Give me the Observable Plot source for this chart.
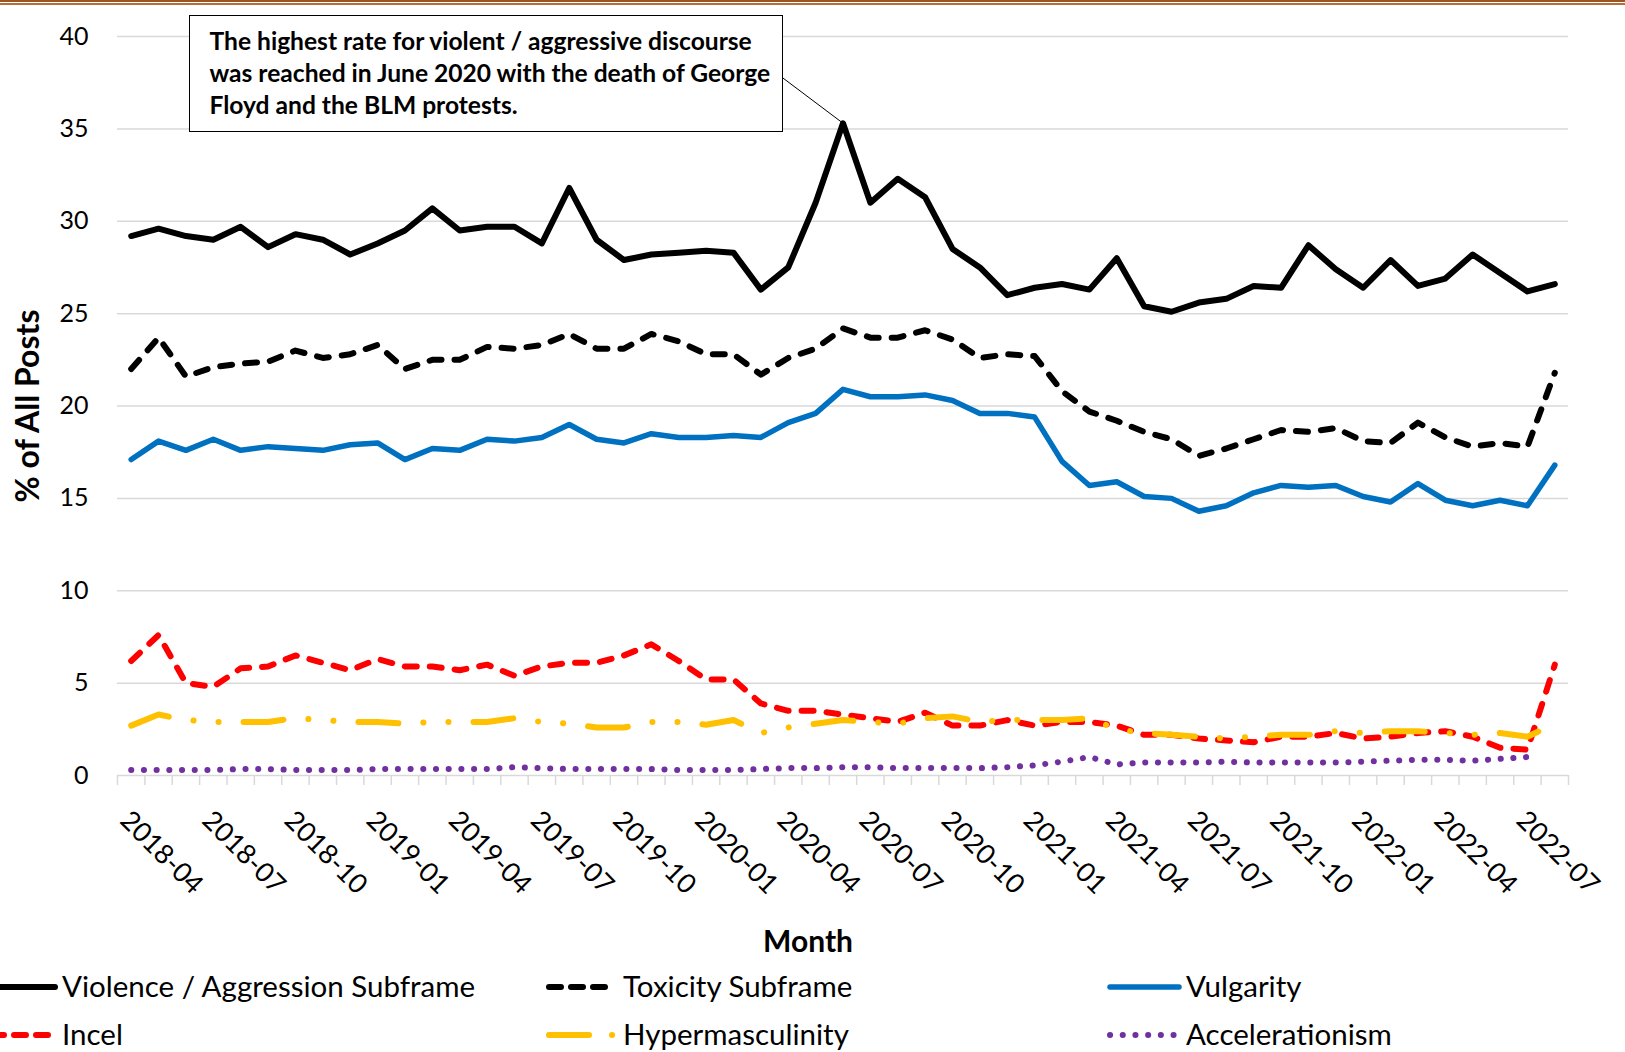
<!DOCTYPE html>
<html>
<head>
<meta charset="utf-8">
<script src="https://cdn.jsdelivr.net/npm/d3@7"></script>
<script src="https://cdn.jsdelivr.net/npm/@observablehq/plot@0.6"></script>
<style>
html,body{margin:0;padding:0;background:#fff;}
#page{position:relative;width:1625px;height:1052px;overflow:hidden;font-family:Lato,"Open Sans",sans-serif;color:#000;}
#chart{position:absolute;left:0;top:0;}
.tl1{position:absolute;left:0;top:0;width:1625px;height:1.5px;background:#9a5524;}
.tl2{position:absolute;left:0;top:3px;width:1625px;height:1.5px;background:#b86b33;}
#note{position:absolute;left:188.5px;top:14.5px;width:594px;height:117px;box-sizing:border-box;border:1.5px solid #000;background:#fff;padding:9px 0 0 20px;font-weight:700;font-size:24.6px;line-height:32.2px;white-space:nowrap;}
.leg{position:absolute;height:36px;line-height:36px;font-size:29.5px;white-space:nowrap;}
.sw{position:absolute;overflow:visible;}
</style>
</head>
<body>
<div id="page">
  <div id="chart"></div>
  <div class="tl1"></div><div class="tl2"></div>
  <div id="note"></div>
  <div id="legend"></div>
</div>
<script>
// ---------- data ----------
const months = ["2018-04","2018-05","2018-06","2018-07","2018-08","2018-09","2018-10","2018-11","2018-12",
"2019-01","2019-02","2019-03","2019-04","2019-05","2019-06","2019-07","2019-08","2019-09","2019-10","2019-11","2019-12",
"2020-01","2020-02","2020-03","2020-04","2020-05","2020-06","2020-07","2020-08","2020-09","2020-10","2020-11","2020-12",
"2021-01","2021-02","2021-03","2021-04","2021-05","2021-06","2021-07","2021-08","2021-09","2021-10","2021-11","2021-12",
"2022-01","2022-02","2022-03","2022-04","2022-05","2022-06","2022-07","2022-08"];

const tickLabels = ["2018-04","2018-07","2018-10","2019-01","2019-04","2019-07","2019-10","2020-01","2020-04",
"2020-07","2020-10","2021-01","2021-04","2021-07","2021-10","2022-01","2022-04","2022-07"];

const yTicks = [0,5,10,15,20,25,30,35,40];

const violence = [29.2,29.6,29.2,29.0,29.7,28.6,29.3,29.0,28.2,28.8,29.5,30.7,29.5,29.7,29.7,28.8,31.8,29.0,27.9,28.2,28.3,28.4,28.3,26.3,27.5,31.0,35.3,31.0,32.3,31.3,28.5,27.5,26.0,26.4,26.6,26.3,28.0,25.4,25.1,25.6,25.8,26.5,26.4,28.7,27.4,26.4,27.9,26.5,26.9,28.2,27.2,26.2,26.6];
const toxicity = [22.0,23.7,21.6,22.1,22.3,22.4,23.0,22.6,22.8,23.3,22.0,22.5,22.5,23.2,23.1,23.3,23.9,23.1,23.1,23.9,23.5,22.8,22.8,21.7,22.6,23.1,24.2,23.7,23.7,24.1,23.6,22.6,22.8,22.7,20.8,19.7,19.2,18.6,18.2,17.3,17.7,18.2,18.7,18.6,18.8,18.1,18.0,19.1,18.3,17.8,18.0,17.8,21.8];
const vulgarity = [17.1,18.1,17.6,18.2,17.6,17.8,17.7,17.6,17.9,18.0,17.1,17.7,17.6,18.2,18.1,18.3,19.0,18.2,18.0,18.5,18.3,18.3,18.4,18.3,19.1,19.6,20.9,20.5,20.5,20.6,20.3,19.6,19.6,19.4,17.0,15.7,15.9,15.1,15.0,14.3,14.6,15.3,15.7,15.6,15.7,15.1,14.8,15.8,14.9,14.6,14.9,14.6,16.8];
const incel = [6.2,7.6,5.0,4.8,5.8,5.9,6.5,6.1,5.7,6.3,5.9,5.9,5.7,6.0,5.4,5.9,6.1,6.1,6.5,7.1,6.2,5.2,5.2,3.9,3.5,3.5,3.3,3.1,2.9,3.4,2.7,2.7,3.0,2.7,2.9,2.9,2.7,2.2,2.2,2.0,1.9,1.8,2.1,2.1,2.3,2.0,2.1,2.3,2.4,2.1,1.5,1.4,6.0];
const hyper = [2.7,3.3,3.0,2.9,2.9,2.9,3.1,3.0,2.9,2.9,2.8,2.9,2.9,2.9,3.1,2.9,2.8,2.6,2.6,2.9,2.9,2.75,3.0,2.3,2.6,2.8,3.0,2.9,2.8,3.1,3.2,2.9,3.0,3.0,3.0,3.1,2.5,2.3,2.2,2.1,2.0,2.1,2.2,2.2,2.4,2.3,2.4,2.4,2.3,2.2,2.3,2.1,2.8];
const accel = [0.3,0.3,0.3,0.3,0.35,0.35,0.3,0.3,0.3,0.35,0.35,0.35,0.35,0.35,0.45,0.4,0.35,0.35,0.35,0.35,0.3,0.3,0.3,0.35,0.4,0.4,0.45,0.45,0.4,0.4,0.4,0.4,0.45,0.55,0.75,1.0,0.6,0.7,0.7,0.7,0.75,0.7,0.7,0.7,0.7,0.75,0.8,0.85,0.85,0.8,0.9,1.0,null];

const seriesNames = ["Violence / Aggression Subframe","Toxicity Subframe","Vulgarity","Incel","Hypermasculinity","Accelerationism"];
const noteLines = ["The highest rate for violent / aggressive discourse","was reached in June 2020 with the death of George","Floyd and the BLM protests."];

// ---------- styles ----------
const styles = [
  {data: violence, stroke: "#000000", strokeWidth: 6, dash: null},
  {data: toxicity, stroke: "#000000", strokeWidth: 6, dash: "12 13"},
  {data: vulgarity, stroke: "#0070c0", strokeWidth: 5.5, dash: null},
  {data: incel, stroke: "#ff0000", strokeWidth: 6, dash: "12 13"},
  {data: hyper, stroke: "#ffc000", strokeWidth: 6, dash: "40 25 0.1 25 0.1 25"},
  {data: accel, stroke: "#7030a0", strokeWidth: 6, dash: "0.1 12.6"}
];

const idx = months.map((m, i) => i);
const boundaries = d3.range(-0.5, months.length, 1);
const labelIdx = tickLabels.map(t => months.indexOf(t));

const lineMarks = styles.map(s => Plot.line(idx, {
  x: i => i, y: i => s.data[i],
  stroke: s.stroke, strokeWidth: s.strokeWidth,
  strokeDasharray: s.dash || undefined,
  strokeLinecap: "round", strokeLinejoin: "round"
}));

const chart = Plot.plot({
  width: 1625, height: 965,
  marginLeft: 117, marginRight: 57, marginTop: 36, marginBottom: 190,
  x: {domain: [-0.5, months.length - 0.5], axis: null},
  y: {domain: [0, 40], axis: null},
  style: {fontFamily: "Lato, 'Open Sans', sans-serif", fontSize: "25px", color: "#000", background: "transparent", overflow: "visible"},
  marks: [
    Plot.ruleY(yTicks, {y: d => d, stroke: "#d9d9d9", strokeWidth: 1.5}),
    Plot.ruleX(boundaries, {x: d => d, y1: () => 0, y2: () => 0, insetBottom: -10, stroke: "#d9d9d9", strokeWidth: 1.5}),
    Plot.text(yTicks, {y: d => d, text: d => String(d), frameAnchor: "left", textAnchor: "end", dx: -29, fontSize: 25, fill: "#000"}),
    ...lineMarks,
    Plot.text(labelIdx, {x: d => d, y: () => 0, text: d => months[d], rotate: 45, textAnchor: "start", lineAnchor: "top", dy: 33, dx: 1, fontSize: 27, fill: "#000"}),
    Plot.text(["% of All Posts"], {frameAnchor: "left", text: d => d, rotate: -90, textAnchor: "middle", lineAnchor: "middle", dx: -89, fontWeight: "bold", fontSize: 32, fill: "#000"}),
    Plot.text(["Month"], {frameAnchor: "bottom", text: d => d, textAnchor: "middle", lineAnchor: "middle", dx: -35, dy: 167, fontWeight: "bold", fontSize: 30, fill: "#000"})
  ]
});
document.getElementById("chart").appendChild(chart);

// annotation box
const note = document.getElementById("note");
note.innerHTML = noteLines.join("<br>");
// connector from box edge to the June 2020 peak, placed with the plot's scales
const peakI = violence.indexOf(d3.max(violence));
const sx = chart.scale("x"), sy = chart.scale("y");
d3.select(chart).append("line")
  .attr("x1", 782.5).attr("y1", 77.7)
  .attr("x2", sx.apply(peakI)).attr("y2", sy.apply(violence[peakI]))
  .attr("stroke", "#000").attr("stroke-width", 1);

// legend
const legend = document.getElementById("legend");
const legPos = [
  {sx0: -8, sx1: 55, tx: 62, cy: 987},
  {sx0: 549, sx1: 612, tx: 623, cy: 987},
  {sx0: 1110, sx1: 1179, tx: 1186, cy: 987},
  {sx0: -8, sx1: 52, tx: 62, cy: 1035},
  {sx0: 549, sx1: 617, tx: 623, cy: 1035},
  {sx0: 1110, sx1: 1176, tx: 1186, cy: 1035}
];
const legDash = [null, "12 10", null, "12 10", "40 23 0.1 25", "0.1 12.6"];
seriesNames.forEach((name, k) => {
  const p = legPos[k], s = styles[k];
  const svg = d3.select(legend).append("svg").attr("class", "sw")
    .style("left", "0px").style("top", (p.cy - 10) + "px")
    .attr("width", 1625).attr("height", 20);
  svg.append("line").attr("x1", p.sx0).attr("x2", p.sx1).attr("y1", 10).attr("y2", 10)
    .attr("stroke", s.stroke).attr("stroke-width", s.strokeWidth)
    .attr("stroke-linecap", "round")
    .attr("stroke-dasharray", legDash[k]);
  const t = document.createElement("div");
  t.className = "leg";
  t.style.left = p.tx + "px";
  t.style.top = (p.cy - 19) + "px";
  t.textContent = name;
  legend.appendChild(t);
});
</script>
</body>
</html>
